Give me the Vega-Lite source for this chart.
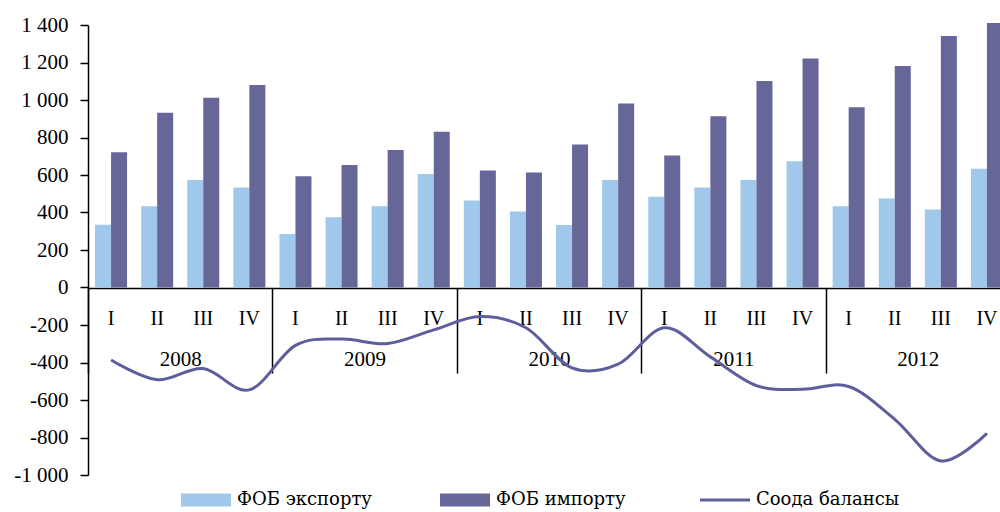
{
  "$schema": "https://vega.github.io/schema/vega-lite/v6.json",
  "width": 922,
  "height": 450,
  "autosize": "none",
  "padding": {"left": 88, "top": 25, "right": 0, "bottom": 37},
  "background": "white",
  "config": {
    "font": "Liberation Serif",
    "view": {"stroke": null},
    "axis": {"labelFont": "Liberation Serif", "labelFontSize": 21, "labelColor": "black", "grid": false, "title": null}
  },
  "data": {"values": [
    {"q": "2008 I", "year": "2008", "s": "ФОБ экспорту", "v": 335}, {"q": "2008 I", "year": "2008", "s": "ФОБ импорту", "v": 722}, {"q": "2008 I", "year": "2008", "s": "Соода балансы", "v": -387},
    {"q": "2008 II", "year": "2008", "s": "ФОБ экспорту", "v": 434}, {"q": "2008 II", "year": "2008", "s": "ФОБ импорту", "v": 932}, {"q": "2008 II", "year": "2008", "s": "Соода балансы", "v": -492},
    {"q": "2008 III", "year": "2008", "s": "ФОБ экспорту", "v": 573}, {"q": "2008 III", "year": "2008", "s": "ФОБ импорту", "v": 1012}, {"q": "2008 III", "year": "2008", "s": "Соода балансы", "v": -432},
    {"q": "2008 IV", "year": "2008", "s": "ФОБ экспорту", "v": 534}, {"q": "2008 IV", "year": "2008", "s": "ФОБ импорту", "v": 1080}, {"q": "2008 IV", "year": "2008", "s": "Соода балансы", "v": -546},
    {"q": "2009 I", "year": "2009", "s": "ФОБ экспорту", "v": 285}, {"q": "2009 I", "year": "2009", "s": "ФОБ импорту", "v": 594}, {"q": "2009 I", "year": "2009", "s": "Соода балансы", "v": -309},
    {"q": "2009 II", "year": "2009", "s": "ФОБ экспорту", "v": 375}, {"q": "2009 II", "year": "2009", "s": "ФОБ импорту", "v": 653}, {"q": "2009 II", "year": "2009", "s": "Соода балансы", "v": -275},
    {"q": "2009 III", "year": "2009", "s": "ФОБ экспорту", "v": 434}, {"q": "2009 III", "year": "2009", "s": "ФОБ импорту", "v": 733}, {"q": "2009 III", "year": "2009", "s": "Соода балансы", "v": -299},
    {"q": "2009 IV", "year": "2009", "s": "ФОБ экспорту", "v": 605}, {"q": "2009 IV", "year": "2009", "s": "ФОБ импорту", "v": 831}, {"q": "2009 IV", "year": "2009", "s": "Соода балансы", "v": -226},
    {"q": "2010 I", "year": "2010", "s": "ФОБ экспорту", "v": 464}, {"q": "2010 I", "year": "2010", "s": "ФОБ импорту", "v": 624}, {"q": "2010 I", "year": "2010", "s": "Соода балансы", "v": -155},
    {"q": "2010 II", "year": "2010", "s": "ФОБ экспорту", "v": 406}, {"q": "2010 II", "year": "2010", "s": "ФОБ импорту", "v": 614}, {"q": "2010 II", "year": "2010", "s": "Соода балансы", "v": -215},
    {"q": "2010 III", "year": "2010", "s": "ФОБ экспорту", "v": 334}, {"q": "2010 III", "year": "2010", "s": "ФОБ импорту", "v": 763}, {"q": "2010 III", "year": "2010", "s": "Соода балансы", "v": -429},
    {"q": "2010 IV", "year": "2010", "s": "ФОБ экспорту", "v": 573}, {"q": "2010 IV", "year": "2010", "s": "ФОБ импорту", "v": 982}, {"q": "2010 IV", "year": "2010", "s": "Соода балансы", "v": -409},
    {"q": "2011 I", "year": "2011", "s": "ФОБ экспорту", "v": 484}, {"q": "2011 I", "year": "2011", "s": "ФОБ импорту", "v": 704}, {"q": "2011 I", "year": "2011", "s": "Соода балансы", "v": -215},
    {"q": "2011 II", "year": "2011", "s": "ФОБ экспорту", "v": 534}, {"q": "2011 II", "year": "2011", "s": "ФОБ импорту", "v": 913}, {"q": "2011 II", "year": "2011", "s": "Соода балансы", "v": -370},
    {"q": "2011 III", "year": "2011", "s": "ФОБ экспорту", "v": 573}, {"q": "2011 III", "year": "2011", "s": "ФОБ импорту", "v": 1101}, {"q": "2011 III", "year": "2011", "s": "Соода балансы", "v": -523},
    {"q": "2011 IV", "year": "2011", "s": "ФОБ экспорту", "v": 674}, {"q": "2011 IV", "year": "2011", "s": "ФОБ импорту", "v": 1222}, {"q": "2011 IV", "year": "2011", "s": "Соода балансы", "v": -543},
    {"q": "2012 I", "year": "2012", "s": "ФОБ экспорту", "v": 434}, {"q": "2012 I", "year": "2012", "s": "ФОБ импорту", "v": 962}, {"q": "2012 I", "year": "2012", "s": "Соода балансы", "v": -528},
    {"q": "2012 II", "year": "2012", "s": "ФОБ экспорту", "v": 475}, {"q": "2012 II", "year": "2012", "s": "ФОБ импорту", "v": 1181}, {"q": "2012 II", "year": "2012", "s": "Соода балансы", "v": -703},
    {"q": "2012 III", "year": "2012", "s": "ФОБ экспорту", "v": 416}, {"q": "2012 III", "year": "2012", "s": "ФОБ импорту", "v": 1341}, {"q": "2012 III", "year": "2012", "s": "Соода балансы", "v": -925},
    {"q": "2012 IV", "year": "2012", "s": "ФОБ экспорту", "v": 633}, {"q": "2012 IV", "year": "2012", "s": "ФОБ импорту", "v": 1411}, {"q": "2012 IV", "year": "2012", "s": "Соода балансы", "v": -778}
  ]},
  "layer": [
    {
      "encoding": {
        "x": {"field": "q", "type": "nominal", "sort": null,
          "scale": {"paddingInner": 0, "paddingOuter": 0},
          "axis": {"orient": "bottom", "offset": -187, "domain": true, "domainColor": "black", "domainWidth": 1.5, "ticks": false, "labelPadding": 20, "labelFontSize": 20, "labelAngle": 0, "labelExpr": "substring(datum.value, 5)"}},
        "y": {"field": "v", "type": "quantitative",
          "scale": {"domain": [-1000, 1400], "nice": false, "zero": false},
          "axis": {"values": [-1000, -800, -600, -400, -200, 0, 200, 400, 600, 800, 1000, 1200, 1400], "domainColor": "black", "domainWidth": 1.5, "tickColor": "black", "tickWidth": 1.5, "tickSize": 8, "labelPadding": 12,
            "labelExpr": "(datum.value < 0 ? '-' : '') + replace(format(abs(datum.value), ','), ',', ' ')"}},
        "color": {"field": "s", "type": "nominal",
          "scale": {"domain": ["ФОБ экспорту", "ФОБ импорту", "Соода балансы"], "range": ["#9FC8EA", "#666699", "#5E5E9C"]},
          "legend": {"title": null, "orient": "none", "legendX": 109, "legendY": 466, "direction": "horizontal", "columns": 3, "columnPadding": 68, "padding": 0,
            "symbolSize": 2500, "labelOffset": 22, "labelFont": "DejaVu Serif", "labelFontSize": 18, "labelColor": "black", "labelLimit": 300,
            "encode": {
              "symbols": {"update": {
              "shape": {"signal": "datum.value === 'Соода балансы' ? 'stroke' : 'M-1,-0.26H1V0.26H-1Z'"},
              "fill": {"scale": "color", "field": "value"},
              "stroke": {"scale": "color", "field": "value"},
              "strokeWidth": {"signal": "datum.value === 'Соода балансы' ? 3 : 0"},
              "opacity": {"value": 1},
              "fillOpacity": {"value": 1}
            }}}}
        }
      },
      "layer": [
        {
          "transform": [{"filter": "datum.s !== 'Соода балансы'"}],
          "mark": {"type": "bar"},
          "encoding": {
            "xOffset": {"field": "s", "type": "nominal", "scale": {"domain": ["ФОБ экспорту", "ФОБ импорту"], "paddingInner": 0, "paddingOuter": 0.44}}
          }
        },
        {
          "transform": [{"filter": "datum.s === 'Соода балансы'"}],
          "mark": {"type": "line", "strokeWidth": 3, "interpolate": "cardinal"}
        }
      ]
    },
    {
      "mark": {"type": "rule", "opacity": 0},
      "encoding": {
        "x": {"field": "year", "type": "nominal", "sort": null,
          "scale": {"paddingInner": 0, "paddingOuter": 0},
          "axis": {"orient": "bottom", "offset": -187, "domain": false, "ticks": true, "tickBand": "extent", "tickSize": 85, "tickColor": "black", "tickWidth": 1.5, "labelPadding": -25, "labelAngle": 0}}
      }
    }
  ],
  "resolve": {"scale": {"x": "independent"}, "axis": {"x": "independent"}}
}
